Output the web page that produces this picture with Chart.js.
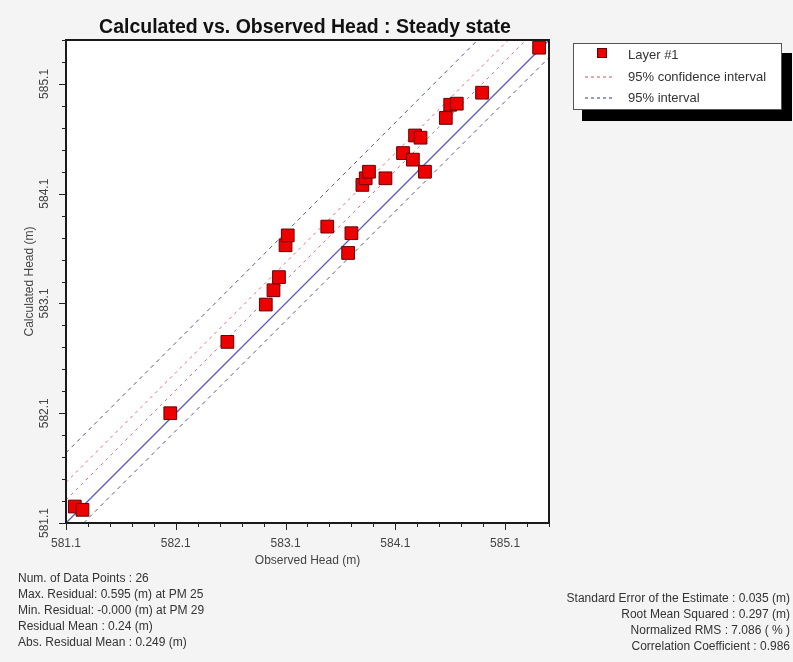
<!DOCTYPE html>
<html>
<head>
<meta charset="utf-8">
<script src="https://cdn.jsdelivr.net/npm/chart.js@4.4.1/dist/chart.umd.min.js"></script>
<style>
  html, body { margin: 0; padding: 0; background: #f4f4f4; }
  #wrap { width: 793px; height: 662px; }
</style>
</head>
<body>
<div id="wrap"><canvas id="calib" width="793" height="662"></canvas></div>
<script>
// observed vs calculated head (m)
const observedHead = [581.18, 581.25, 582.05, 582.57, 582.92, 582.99, 583.04, 583.10, 583.12,
    583.48, 583.70, 583.67, 583.80, 583.83, 583.86, 584.01, 584.17, 584.26, 584.37, 584.28,
    584.33, 584.56, 584.60, 584.66, 584.89, 585.41];
const calculatedHead = [581.25, 581.22, 582.10, 582.75, 583.09, 583.22, 583.34, 583.63, 583.72,
    583.80, 583.74, 583.56, 584.18, 584.24, 584.30, 584.24, 584.47, 584.41, 584.30, 584.63,
    584.61, 584.79, 584.91, 584.92, 585.02, 585.43];

// reference lines, end points
const oneToOneObs = [581.1, 585.5];
const oneToOneCalc = [581.1, 585.5];
const intervalUpperObs = [581.1, 584.85];
const intervalUpperCalc = [581.74, 585.5];
const intervalLowerObs = [581.26, 585.5];
const intervalLowerCalc = [581.1, 585.34];
const confUpperObs = [581.1, 585.13];
const confUpperCalc = [581.47, 585.5];
const confLowerObs = [581.1, 585.29];
const confLowerCalc = [581.31, 585.5];

const axisMin = 581.1;
const axisMax = 585.5;
const majorTicks = [581.1, 582.1, 583.1, 584.1, 585.1];

const statsLeft = [
    'Num. of Data Points : 26',
    'Max. Residual: 0.595 (m) at PM 25',
    'Min. Residual: -0.000 (m) at PM 29',
    'Residual Mean : 0.24 (m)',
    'Abs. Residual Mean : 0.249 (m)'
];
const statsRight = [
    'Standard Error of the Estimate : 0.035 (m)',
    'Root Mean Squared : 0.297 (m)',
    'Normalized RMS : 7.086 ( % )',
    'Correlation Coefficient : 0.986'
];

// all tick positions every 0.2 m
const allTicks = [];
for (let v = axisMin; v <= axisMax + 1e-6; v += 0.2) {
    allTicks.push(Math.round(v * 10) / 10);
}

const isMajor = (v) => majorTicks.some(m => Math.abs(m - v) < 1e-6);

function pairs(xs, ys) {
    return xs.map((x, i) => ({ x: x, y: ys[i] }));
}

const FONT = "'Liberation Sans', Arial, sans-serif";

const lineSet = (label, xs, ys, color, dash, width) => ({
    type: 'line',
    label: label,
    data: pairs(xs, ys),
    borderColor: color,
    borderWidth: width,
    borderDash: dash,
    pointRadius: 0,
    fill: false,
    tension: 0
});

const decor = {
    id: 'decor',
    beforeDraw(chart) {
        const ctx = chart.ctx;
        const a = chart.chartArea;
        ctx.save();
        ctx.fillStyle = '#f4f4f4';
        ctx.fillRect(0, 0, chart.width, chart.height);
        ctx.fillStyle = '#ffffff';
        ctx.fillRect(a.left, a.top, a.right - a.left, a.bottom - a.top);
        ctx.restore();
    },
    afterDraw(chart) {
        const ctx = chart.ctx;
        const a = chart.chartArea;
        const xs = chart.scales.x;
        const ys = chart.scales.y;
        ctx.save();

        // frame
        ctx.strokeStyle = '#1a1a1a';
        ctx.lineWidth = 2;
        ctx.strokeRect(a.left, a.top, a.right - a.left, a.bottom - a.top);

        // tick marks
        ctx.lineWidth = 1;
        ctx.strokeStyle = '#222';
        allTicks.forEach(v => {
            const len = isMajor(v) ? 7 : 4;
            const px = Math.round(xs.getPixelForValue(v)) + 0.5;
            ctx.beginPath();
            ctx.moveTo(px, a.bottom);
            ctx.lineTo(px, a.bottom + len);
            ctx.stroke();
            const py = Math.round(ys.getPixelForValue(v)) + 0.5;
            ctx.beginPath();
            ctx.moveTo(a.left, py);
            ctx.lineTo(a.left - len, py);
            ctx.stroke();
        });

        // y tick labels, rotated
        ctx.fillStyle = '#444';
        ctx.font = '12px ' + FONT;
        ctx.textAlign = 'center';
        ctx.textBaseline = 'middle';
        majorTicks.forEach(v => {
            const py = ys.getPixelForValue(v);
            ctx.save();
            ctx.translate(45, py);
            ctx.rotate(-Math.PI / 2);
            ctx.fillText(v.toFixed(1), 0, 0);
            ctx.restore();
        });

        // axis titles
        ctx.fillText('Observed Head (m)', (a.left + a.right) / 2, 561);
        ctx.save();
        ctx.translate(30, (a.top + a.bottom) / 2);
        ctx.rotate(-Math.PI / 2);
        ctx.fillText('Calculated Head (m)', 0, 0);
        ctx.restore();

        // title
        ctx.fillStyle = '#111';
        ctx.font = 'bold 19.5px ' + FONT;
        ctx.fillText('Calculated vs. Observed Head : Steady state', 305, 28);

        // legend box with shadow
        ctx.fillStyle = '#000';
        ctx.fillRect(582, 53, 210, 68);
        ctx.fillStyle = '#fff';
        ctx.fillRect(573, 43, 209, 67);
        ctx.strokeStyle = '#555';
        ctx.lineWidth = 1;
        ctx.strokeRect(573.5, 43.5, 208, 66);

        ctx.fillStyle = '#ee0000';
        ctx.fillRect(597, 48, 10, 10);
        ctx.strokeStyle = '#600';
        ctx.strokeRect(597.5, 48.5, 9, 9);

        ctx.lineWidth = 1.2;
        ctx.setLineDash([3, 3]);
        ctx.strokeStyle = '#e07070';
        ctx.beginPath(); ctx.moveTo(585, 77); ctx.lineTo(614, 77); ctx.stroke();
        ctx.strokeStyle = '#505a90';
        ctx.beginPath(); ctx.moveTo(585, 98); ctx.lineTo(614, 98); ctx.stroke();
        ctx.setLineDash([]);

        ctx.fillStyle = '#333';
        ctx.font = '13px ' + FONT;
        ctx.textAlign = 'left';
        ctx.fillText('Layer #1', 628, 55);
        ctx.fillText('95% confidence interval', 628, 77);
        ctx.fillText('95% interval', 628, 98);

        // statistics
        ctx.font = '12px ' + FONT;
        ctx.fillStyle = '#333';
        statsLeft.forEach((t, i) => ctx.fillText(t, 18, 579 + i * 16));
        ctx.textAlign = 'right';
        statsRight.forEach((t, i) => ctx.fillText(t, 790, 599 + i * 16));

        ctx.restore();
    }
};

new Chart(document.getElementById('calib'), {
    type: 'scatter',
    data: {
        datasets: [
            {
                label: 'Layer #1',
                data: pairs(observedHead, calculatedHead),
                pointStyle: 'rect',
                pointRadius: 9,
                pointHoverRadius: 9,
                backgroundColor: '#ee0000',
                borderColor: '#660000',
                borderWidth: 1,
                clip: false
            },
            lineSet('1:1', oneToOneObs, oneToOneCalc, '#5a5ac8', [], 1.3),
            lineSet('95% interval', intervalUpperObs, intervalUpperCalc, '#505a90', [4, 4], 1),
            lineSet('95% interval', intervalLowerObs, intervalLowerCalc, '#505a90', [4, 4], 1),
            lineSet('95% confidence interval', confUpperObs, confUpperCalc, '#e07070', [3, 4], 1),
            lineSet('95% confidence interval', confLowerObs, confLowerCalc, '#e07070', [3, 4], 1)
        ]
    },
    options: {
        responsive: false,
        animation: false,
        devicePixelRatio: 1,
        layout: { padding: { left: 0, right: 244, top: 40, bottom: 0 } },
        plugins: {
            legend: { display: false },
            tooltip: { enabled: false },
            title: { display: false }
        },
        scales: {
            x: {
                type: 'linear',
                min: axisMin,
                max: axisMax,
                afterBuildTicks: (s) => { s.ticks = allTicks.map(v => ({ value: v })); },
                afterFit: (s) => { s.height = 139; },
                grid: { display: false, drawTicks: false },
                border: { display: false },
                ticks: {
                    autoSkip: false,
                    maxRotation: 0,
                    padding: 13,
                    color: '#444',
                    font: { family: FONT, size: 12 },
                    callback: (v) => isMajor(v) ? v.toFixed(1) : ''
                }
            },
            y: {
                type: 'linear',
                min: axisMin,
                max: axisMax,
                afterBuildTicks: (s) => { s.ticks = allTicks.map(v => ({ value: v })); },
                afterFit: (s) => { s.width = 66; },
                grid: { display: false, drawTicks: false },
                border: { display: false },
                ticks: { display: false }
            }
        }
    },
    plugins: [decor]
});
</script>
</body>
</html>
